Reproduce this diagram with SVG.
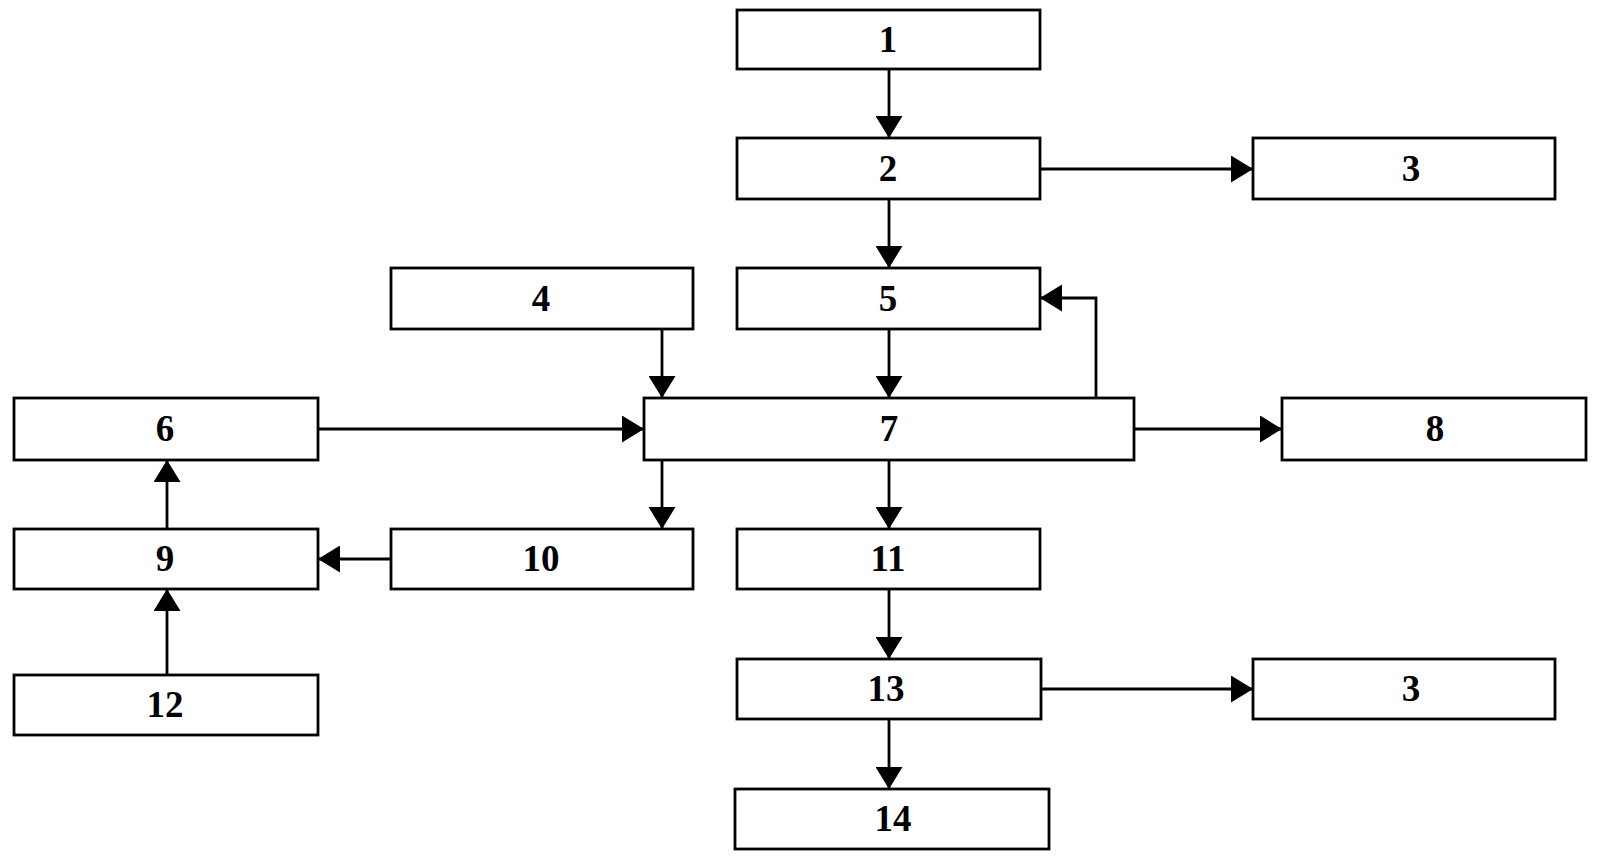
<svg xmlns="http://www.w3.org/2000/svg" width="1602" height="862" viewBox="0 0 1602 862">
<style>
.box{fill:#fff;stroke:#000;stroke-width:2.8}
.lbl{font-family:"Liberation Serif","Times New Roman",serif;font-size:37px;font-weight:bold;text-anchor:middle;fill:#000}
.c{fill:none;stroke:#000;stroke-width:2.8}
</style>
<defs>
<marker id="ah" markerUnits="userSpaceOnUse" markerWidth="22" markerHeight="27" viewBox="0 0 22 27" refX="21" refY="13.5" orient="auto">
<path d="M0,0 L22,13.5 L0,27 Z" fill="#000"/>
</marker>
</defs>
<rect width="1602" height="862" fill="#fff"/>
<g id="connectors">
<line class="c" x1="889" y1="69" x2="889" y2="137" marker-end="url(#ah)"/>
<line class="c" x1="889" y1="199" x2="889" y2="267" marker-end="url(#ah)"/>
<line class="c" x1="1040" y1="169" x2="1252" y2="169" marker-end="url(#ah)"/>
<line class="c" x1="662" y1="329" x2="662" y2="397" marker-end="url(#ah)"/>
<line class="c" x1="889" y1="329" x2="889" y2="397" marker-end="url(#ah)"/>
<polyline class="c" points="1096,398 1096,298 1041,298" marker-end="url(#ah)"/>
<line class="c" x1="318" y1="429" x2="643" y2="429" marker-end="url(#ah)"/>
<line class="c" x1="1134" y1="429" x2="1281" y2="429" marker-end="url(#ah)"/>
<line class="c" x1="662" y1="460" x2="662" y2="528" marker-end="url(#ah)"/>
<line class="c" x1="889" y1="460" x2="889" y2="528" marker-end="url(#ah)"/>
<line class="c" x1="391" y1="559" x2="319" y2="559" marker-end="url(#ah)"/>
<line class="c" x1="167" y1="529" x2="167" y2="461" marker-end="url(#ah)"/>
<line class="c" x1="167" y1="675" x2="167" y2="590" marker-end="url(#ah)"/>
<line class="c" x1="889" y1="589" x2="889" y2="658" marker-end="url(#ah)"/>
<line class="c" x1="1041" y1="689" x2="1252" y2="689" marker-end="url(#ah)"/>
<line class="c" x1="889" y1="719" x2="889" y2="788" marker-end="url(#ah)"/>
</g>
<g id="n1"><rect class="box" x="737" y="10" width="303" height="59"/><text class="lbl" x="888" y="52">1</text></g>
<g id="n2"><rect class="box" x="737" y="138" width="303" height="61"/><text class="lbl" x="888" y="181">2</text></g>
<g id="n3a"><rect class="box" x="1253" y="138" width="302" height="61"/><text class="lbl" x="1411" y="181">3</text></g>
<g id="n4"><rect class="box" x="391" y="268" width="302" height="61"/><text class="lbl" x="541" y="311">4</text></g>
<g id="n5"><rect class="box" x="737" y="268" width="303" height="61"/><text class="lbl" x="888" y="311">5</text></g>
<g id="n6"><rect class="box" x="14" y="398" width="304" height="62"/><text class="lbl" x="165" y="441">6</text></g>
<g id="n7"><rect class="box" x="644" y="398" width="490" height="62"/><text class="lbl" x="889" y="441">7</text></g>
<g id="n8"><rect class="box" x="1282" y="398" width="304" height="62"/><text class="lbl" x="1435" y="441">8</text></g>
<g id="n9"><rect class="box" x="14" y="529" width="304" height="60"/><text class="lbl" x="165" y="571">9</text></g>
<g id="n10"><rect class="box" x="391" y="529" width="302" height="60"/><text class="lbl" x="541" y="571">10</text></g>
<g id="n11"><rect class="box" x="737" y="529" width="303" height="60"/><text class="lbl" x="888" y="571">11</text></g>
<g id="n12"><rect class="box" x="14" y="675" width="304" height="60"/><text class="lbl" x="165" y="717">12</text></g>
<g id="n13"><rect class="box" x="737" y="659" width="304" height="60"/><text class="lbl" x="886" y="701">13</text></g>
<g id="n3b"><rect class="box" x="1253" y="659" width="302" height="60"/><text class="lbl" x="1411" y="701">3</text></g>
<g id="n14"><rect class="box" x="735" y="789" width="314" height="60"/><text class="lbl" x="893" y="831">14</text></g>
</svg>
